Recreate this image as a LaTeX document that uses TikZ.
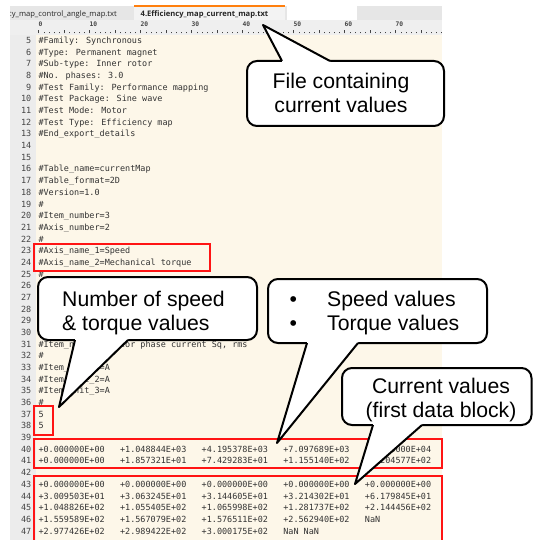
\documentclass[tikz,border=0pt]{standalone}
\usepackage{fontspec}
\setmainfont{Liberation Sans}
\newfontfamily\codefont{DejaVu Sans Mono}
\newfontfamily\uifont{Open Sans}
\definecolor{cream}{HTML}{FDF7E9}
\definecolor{guttergray}{HTML}{ECECEC}
\definecolor{tabbar}{HTML}{E6E6E6}
\definecolor{activetab}{HTML}{F3F3F3}
\definecolor{rulerbg}{HTML}{EFEFEF}
\definecolor{codecol}{HTML}{333333}
\definecolor{numcol}{HTML}{444444}
\definecolor{taborange}{HTML}{FF7F0E}
\definecolor{boxred}{HTML}{FF1414}
\newcommand\codeln[2]{\node[codetxt] (t#1) at (38.3,{43.5+(#1-5)*11.68}) {#2};}
\newcommand\datacell[3]{\node[codetxt] (d#1c#2) at ({38.3+#2*5.1},{43.5+(#1-5)*11.68}) {#3};}
\begin{document}
\begin{tikzpicture}[x=1pt,y=-1pt,
  codetxt/.style={anchor=base west, inner sep=0pt, font=\codefont\fontsize{8.47}{10}\selectfont, text=codecol},
  lnum/.style={anchor=base east, inner sep=0pt, font=\codefont\fontsize{8.47}{10}\selectfont, text=numcol},
  rulerlbl/.style={anchor=base west, inner sep=0pt, font=\codefont\bfseries\fontsize{6.3}{7}\selectfont, text=numcol},
  tabtxt/.style={inner sep=0pt, font=\uifont\fontsize{7.6}{9}\selectfont, text=black!85},
  redbox/.style={draw=boxred, line width=2pt},
  callout/.style={draw=black, line width=2pt, fill=white, rounded corners=10pt},
  pointerfill/.style={fill=white, draw=none},
  pointerline/.style={draw=black, line width=2pt, line join=round},
  ctext/.style={inner sep=0pt, font=\fontsize{21.2}{24}\selectfont, text=black}]
\useasboundingbox (0,0) rectangle (534,540);
\fill[white] (0,0) rectangle (534,540);
% tab bar and ruler
\fill[tabbar] (10,6) rectangle (442,20);
\fill[activetab] (134,6) rectangle (285,20);
\fill[taborange] (134,5) rectangle (285,7.5);
\fill[white] (287,6) rectangle (357,20);
\begin{scope}
\clip (10,6) rectangle (134,20);
\node[tabtxt, anchor=base east] (tabL) at (117,16.5) {cy\_map\_control\_angle\_map.txt};
\end{scope}
\node[tabtxt, anchor=base west, font=\uifont\bfseries\fontsize{7.6}{9}\selectfont] (tabA) at (140.5,16.5) {4.Efficiency\_map\_current\_map.txt};
\fill[rulerbg] (10,20) rectangle (442,35.5);
\foreach \i in {0,...,79} {
  \pgfmathsetmacro\tl{mod(\i,5)==0 ? 3 : 1}
  \draw[numcol, line width=0.7pt] ({38.8+\i*5.1},33.5) -- ++(0,-\tl);
}
\foreach \v in {0,10,...,70} \node[rulerlbl] (r\v) at ({38.3+\v*5.1},27) {\v};
% editor area
\fill[guttergray] (10,35.5) rectangle (35.5,540);
\fill[cream] (35.5,35.5) rectangle (442,540);
\foreach \n in {5,...,47} \node[lnum] (n\n) at (31.5,{43.5+(\n-5)*11.68}) {\n};
\codeln{5}{\#Family: Synchronous}
\codeln{6}{\#Type: Permanent magnet}
\codeln{7}{\#Sub-type: Inner rotor}
\codeln{8}{\#No. phases: 3.0}
\codeln{9}{\#Test Family: Performance mapping}
\codeln{10}{\#Test Package: Sine wave}
\codeln{11}{\#Test Mode: Motor}
\codeln{12}{\#Test Type: Efficiency map}
\codeln{13}{\#End\_export\_details}
\codeln{16}{\#Table\_name=currentMap}
\codeln{17}{\#Table\_format=2D}
\codeln{18}{\#Version=1.0}
\codeln{19}{\#}
\codeln{20}{\#Item\_number=3}
\codeln{21}{\#Axis\_number=2}
\codeln{22}{\#}
\codeln{23}{\#Axis\_name\_1=Speed}
\codeln{24}{\#Axis\_name\_2=Mechanical torque}
\codeln{25}{\#}
\codeln{31}{\#Item\_name\_3=Stator phase current Sq, rms}
\codeln{32}{\#}
\codeln{33}{\#Item\_unit\_1=A}
\codeln{34}{\#Item\_unit\_2=A}
\codeln{35}{\#Item\_unit\_3=A}
\codeln{36}{\#}
\codeln{37}{5}
\codeln{38}{5}
\datacell{40}{0}{+0.000000E+00}\datacell{40}{16}{+1.048844E+03}\datacell{40}{32}{+4.195378E+03}\datacell{40}{48}{+7.097689E+03}\datacell{40}{64}{+1.000000E+04}
\datacell{41}{0}{+0.000000E+00}\datacell{41}{16}{+1.857321E+01}\datacell{41}{32}{+7.429283E+01}\datacell{41}{48}{+1.155140E+02}\datacell{41}{64}{+2.204577E+02}
\datacell{43}{0}{+0.000000E+00}\datacell{43}{16}{+0.000000E+00}\datacell{43}{32}{+0.000000E+00}\datacell{43}{48}{+0.000000E+00}\datacell{43}{64}{+0.000000E+00}
\datacell{44}{0}{+3.009503E+01}\datacell{44}{16}{+3.063245E+01}\datacell{44}{32}{+3.144605E+01}\datacell{44}{48}{+3.214302E+01}\datacell{44}{64}{+6.179845E+01}
\datacell{45}{0}{+1.048826E+02}\datacell{45}{16}{+1.055405E+02}\datacell{45}{32}{+1.065998E+02}\datacell{45}{48}{+1.281737E+02}\datacell{45}{64}{+2.144456E+02}
\datacell{46}{0}{+1.559589E+02}\datacell{46}{16}{+1.567079E+02}\datacell{46}{32}{+1.576511E+02}\datacell{46}{48}{+2.562940E+02}\datacell{46}{64}{NaN}
\datacell{47}{0}{+2.977426E+02}\datacell{47}{16}{+2.989422E+02}\datacell{47}{32}{+3.000175E+02}\datacell{47}{48}{NaN NaN}
% red boxes
\draw[redbox] (33.5,244) rectangle (210,271);
\draw[redbox] (33.5,406) rectangle (53,435);
\draw[redbox] (33.5,438.5) rectangle (441.5,467.5);
\draw[redbox] (33.5,541) -- (33.5,476) -- (441.5,476) -- (441.5,541);
% callout 1
\draw[callout] (247,61) rectangle (444,126);
\fill[pointerfill] (282,63) -- (282,61) -- (263,25) -- (330,61) -- (330,63) -- cycle;
\draw[pointerline] (282,61) -- (263,25) -- (330,61);
\node[ctext, anchor=base] (c1a) at (341,88.5) {File containing};
\node[ctext, anchor=base] (c1b) at (341,113) {current values};
% callout 2
\draw[callout] (38,277) rectangle (257,340);
\fill[pointerfill] (75,338) -- (75,340) -- (59,407) -- (128,340) -- (128,338) -- cycle;
\draw[pointerline] (75,340) -- (59,407) -- (128,340);
\node[ctext, anchor=base west] (c2a) at (62,306) {Number of speed};
\node[ctext, anchor=base west] (c2b) at (62,330.5) {\& torque values};
% callout 3
\draw[callout] (268,279) rectangle (487,343);
\fill[pointerfill] (307,341) -- (307,343) -- (277,443) -- (358,343) -- (358,341) -- cycle;
\draw[pointerline] (307,343) -- (277,443) -- (358,343);
\node[ctext, anchor=base] (c3b1) at (293.3,306) {\textbullet};
\node[ctext, anchor=base west] (c3a) at (327,306) {Speed values};
\node[ctext, anchor=base] (c3b2) at (293.3,330.5) {\textbullet};
\node[ctext, anchor=base west] (c3b) at (327,330.5) {Torque values};
% callout 4
\draw[callout] (342,368) rectangle (531.5,425);
\fill[pointerfill] (373,423) -- (373,425) -- (355,484) -- (422,425) -- (422,423) -- cycle;
\draw[pointerline] (373,425) -- (355,484) -- (422,425);
\node[ctext, anchor=base] (c4a) at (441,393) {Current values};
\node[ctext, anchor=base] (c4b) at (441,417) {(first data block)};
\end{tikzpicture}
\end{document}
